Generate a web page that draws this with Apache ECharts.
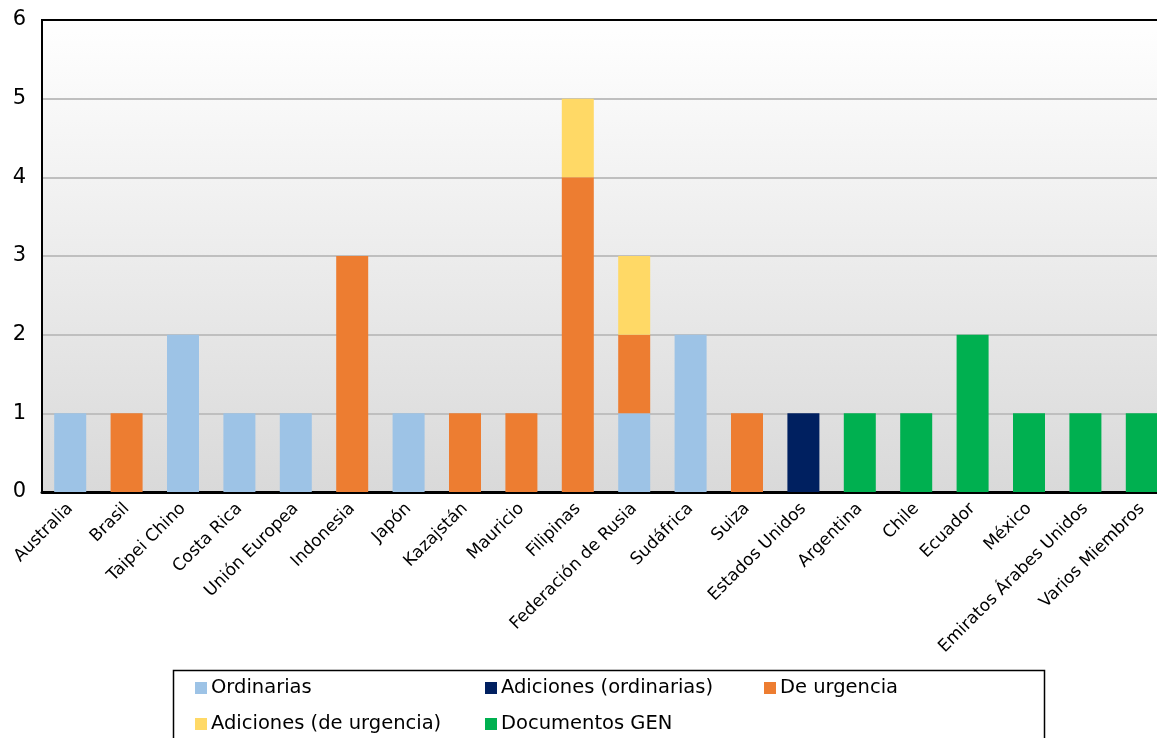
<!DOCTYPE html>
<html><head><meta charset="utf-8">
<script src="https://cdn.jsdelivr.net/npm/echarts@6/dist/echarts.min.js"></script>
<style>html,body{margin:0;padding:0;background:#fff}#c{width:1157px;height:738px}</style>
</head><body><div id="c"></div>
<script>
const categories = ['Australia','Brasil','Taipei Chino','Costa Rica','Unión Europea','Indonesia','Japón','Kazajstán','Mauricio','Filipinas','Federación de Rusia','Sudáfrica','Suiza','Estados Unidos','Argentina','Chile','Ecuador','México','Emiratos Árabes Unidos','Varios Miembros'];
const ordinarias      = [1,0,2,1,1,0,1,0,0,0,1,2,0,0,0,0,0,0,0,0];
const adicionesOrd    = [0,0,0,0,0,0,0,0,0,0,0,0,0,1,0,0,0,0,0,0];
const deUrgencia      = [0,1,0,0,0,3,0,1,1,4,1,0,1,0,0,0,0,0,0,0];
const adicionesUrg    = [0,0,0,0,0,0,0,0,0,1,1,0,0,0,0,0,0,0,0,0];
const documentosGEN   = [0,0,0,0,0,0,0,0,0,0,0,0,0,0,1,1,2,1,1,1];
const yTicks = [0,1,2,3,4,5,6];

const seriesDefs = [
  {name:'Ordinarias', data:ordinarias, color:'#9DC3E6'},
  {name:'Adiciones (ordinarias)', data:adicionesOrd, color:'#002060'},
  {name:'De urgencia', data:deUrgencia, color:'#ED7D31'},
  {name:'Adiciones (de urgencia)', data:adicionesUrg, color:'#FFD966'},
  {name:'Documentos GEN', data:documentosGEN, color:'#00B050'}
];
const legendPos = [[195,678],[485,678],[764,678],[195,714],[485,714]];

const chart = echarts.init(document.getElementById('c'));
chart.setOption({
  animation:false,
  textStyle:{fontFamily:'DejaVu Sans'},
  grid:{left:42, top:20, right:-13, bottom:246, outerBoundsMode:'none', containLabel:false,
    show:true, borderColor:'#000', borderWidth:2,
    backgroundColor:new echarts.graphic.LinearGradient(0,0,0,1,[{offset:0,color:'#FFFFFF'},{offset:1,color:'#D9D9D9'}])},
  legend: seriesDefs.map((s,i)=>({data:[s.name], left:legendPos[i][0], top:legendPos[i][1], padding:0,
    icon:'rect', itemWidth:12, itemHeight:12, itemGap:0,
    textStyle:{fontSize:19.5, color:'#000', fontFamily:'DejaVu Sans', padding:[0,0,0,-1]}})),
  graphic:[
    {type:'rect', left:171, top:668, shape:{width:871, height:90}, style:{fill:'none', stroke:'#000', lineWidth:1.5}, silent:true},
    {type:'line', shape:{x1:41, y1:20, x2:1157, y2:20}, style:{stroke:'#000', lineWidth:2}, z:100, silent:true}
  ],
  xAxis:{type:'category', data:categories,
    axisLine:{lineStyle:{color:'#000', width:3}}, axisTick:{show:false},
    axisLabel:{rotate:45, fontSize:17, color:'#000', margin:14, interval:0}},
  yAxis:{type:'value', min:yTicks[0], max:yTicks[yTicks.length-1], interval:1,
    axisLine:{show:true, lineStyle:{color:'#000', width:2}}, axisTick:{show:false},
    axisLabel:{fontSize:21, color:'#000', margin:16},
    splitLine:{lineStyle:{color:'#BFBFBF', width:2}}},
  series: seriesDefs.map(s=>({name:s.name, type:'bar', stack:'total', barWidth:32,
    data:s.data.map(v=>v===0?null:v), itemStyle:{color:s.color}}))
});
</script></body></html>
